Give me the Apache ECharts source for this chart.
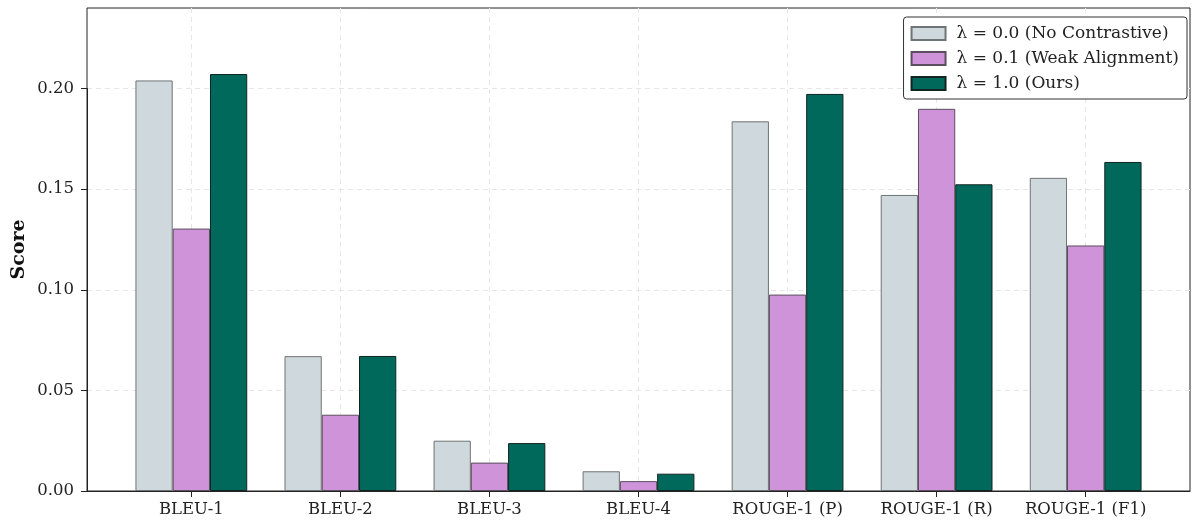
<!DOCTYPE html>
<html><head><meta charset="utf-8">
<script src="https://cdn.jsdelivr.net/npm/echarts@6/dist/echarts.min.js"></script>
<style>html,body{margin:0;padding:0;background:#fff}#c{width:1196px;height:522px}</style>
</head><body><div id="c"></div>
<script>
const categories = ['BLEU-1','BLEU-2','BLEU-3','BLEU-4','ROUGE-1 (P)','ROUGE-1 (R)','ROUGE-1 (F1)'];
const seriesNames = ['λ = 0.0 (No Contrastive)','λ = 0.1 (Weak Alignment)','λ = 1.0 (Ours)'];
const lambda00 = [0.204, 0.067, 0.025, 0.0098, 0.1837, 0.1471, 0.1556];
const lambda01 = [0.1304, 0.0379, 0.0141, 0.0049, 0.0976, 0.1899, 0.1220];
const lambda10 = [0.2072, 0.0671, 0.0238, 0.0086, 0.1973, 0.1524, 0.1635];
const yMax = 0.24;
const yTickMax = 0.20;
const yTickStep = 0.05;

const FONT = 'DejaVu Serif';
const W = 1196, H = 522;
const frame = {left: 87, right: 6, top: 8, bottom: 31};
const plotW = W - frame.left - frame.right;
const plotH = H - frame.top - frame.bottom;
const band = plotW / (categories.length - 1 + 1.4);
const innerPad = band * 0.2;
const firstCenter = frame.left + band * 0.7;
const lastCenter = firstCenter + band * (categories.length - 1);
const tickTop = frame.top + plotH * (yMax - yTickMax) / yMax;

const chart = echarts.init(document.getElementById('c'));
const colors = ['#cfd8dc', '#ce93d8', '#00695c'];
const borders = ['#6f7476', '#5b4e5e', '#102522'];
const dataSets = [lambda00, lambda01, lambda10];
const grey = {color: '#e6e6e6', type: [5, 4], width: 1};
const g = (o) => Object.assign({outerBoundsMode: 'none', containLabel: false}, o);

chart.setOption({
  animation: false,
  textStyle: {fontFamily: FONT},
  grid: [
    g({left: frame.left, right: frame.right, top: frame.top, bottom: frame.bottom,
     show: true, borderColor: '#222', borderWidth: 1, backgroundColor: 'transparent'}),
    g({left: frame.left + innerPad, right: frame.right + innerPad, top: frame.top, bottom: frame.bottom}),
    g({left: firstCenter, right: W - lastCenter, top: frame.top, bottom: frame.bottom}),
    g({left: frame.left, right: frame.right, top: tickTop, bottom: frame.bottom})
  ],
  xAxis: [
    {gridIndex: 0, type: 'category', data: categories, show: true,
     axisLine: {show: true, onZero: false, lineStyle: {color: '#222', width: 1}},
     axisTick: {show: false}, axisLabel: {show: false}, splitLine: {show: false}, z: 3},
    {gridIndex: 1, type: 'category', data: categories, show: false},
    {gridIndex: 2, type: 'category', data: categories, boundaryGap: false,
     axisLine: {show: false},
     axisTick: {show: true, length: 6, interval: 0, lineStyle: {color: '#222'}},
     axisLabel: {color: '#222', fontFamily: FONT, fontSize: 16.5, margin: 10, interval: 0},
     splitLine: {show: true, interval: 0, lineStyle: grey}},
    {gridIndex: 3, type: 'category', data: categories, show: false}
  ],
  yAxis: [
    {gridIndex: 0, type: 'value', min: 0, max: yMax, show: true,
     name: 'Score', nameLocation: 'middle', nameGap: 58,
     nameTextStyle: {fontFamily: FONT, fontWeight: 'bold', fontSize: 19, color: '#111'},
     axisLine: {show: false}, axisTick: {show: false}, axisLabel: {show: false},
     splitLine: {show: false}},
    {gridIndex: 1, type: 'value', min: 0, max: yMax, show: false},
    {gridIndex: 2, type: 'value', min: 0, max: yMax, show: false},
    {gridIndex: 3, type: 'value', min: 0, max: yTickMax, interval: yTickStep,
     axisLine: {show: true, lineStyle: {color: '#222'}},
     axisTick: {show: true, length: 6, lineStyle: {color: '#222'}},
     axisLabel: {color: '#222', fontFamily: FONT, fontSize: 16.5, margin: 13,
       formatter: v => v.toFixed(2)},
     splitLine: {show: true, showMinLine: false, lineStyle: grey}}
  ],
  legend: {
    orient: 'vertical', right: 9, top: 17, icon: 'rect',
    itemWidth: 34, itemHeight: 13, itemGap: 8,
    backgroundColor: '#fff', borderColor: '#333', borderWidth: 1, borderRadius: 3,
    padding: [8, 8, 7, 7],
    textStyle: {fontFamily: FONT, fontSize: 17, color: '#222', padding: [0, 0, 0, 6]},
    data: seriesNames
  },
  series: dataSets.map((d, i) => ({
    name: seriesNames[i], type: 'bar', xAxisIndex: 1, yAxisIndex: 1,
    data: d, barWidth: '25%', barGap: '0%',
    itemStyle: {color: colors[i], borderColor: borders[i], borderWidth: 1}
  }))
});
</script></body></html>
